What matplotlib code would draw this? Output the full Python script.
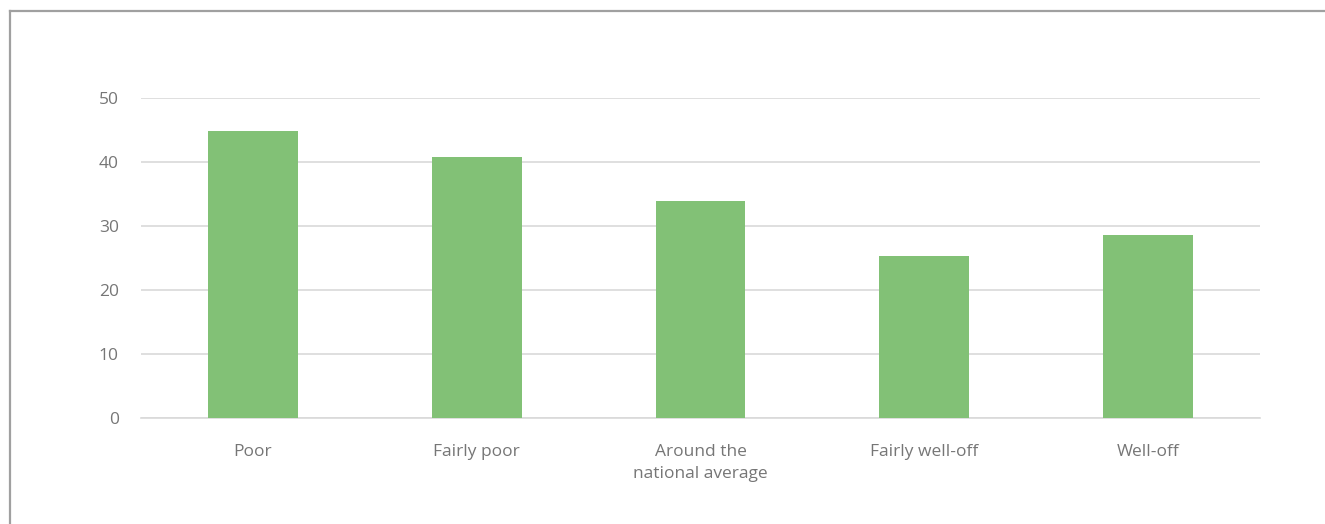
import matplotlib.pyplot as plt
from matplotlib.lines import Line2D
import numpy as np

categories = ["Poor", "Fairly poor", "Around the\nnational average", "Fairly well-off", "Well-off"]
values = [44.8, 40.8, 33.9, 25.3, 28.6]
yticks = [0, 10, 20, 30, 40, 50]

plt.rcParams['font.family'] = ['Open Sans', 'DejaVu Sans']

W, H = 1325, 524
fig = plt.figure(figsize=(W / 100, H / 100), dpi=100)
ax = fig.add_axes([141 / W, 1 - 418 / H, (1260 - 141) / W, (418 - 98) / H])

x = np.arange(len(categories))
ax.bar(x, values, width=0.402, color="#82c176", zorder=3)

ax.set_xlim(-0.5, len(categories) - 0.5)
ax.set_ylim(0, 50)
ax.set_yticks(yticks)
ax.set_xticks(x)
ax.set_xticklabels(categories, linespacing=1.45)
ax.grid(axis="y", color="#d9d9d9", linewidth=1.2, zorder=0)
for s in ["top", "right", "left"]:
    ax.spines[s].set_visible(False)
ax.spines["bottom"].set_color("#d9d9d9")
ax.spines["bottom"].set_linewidth(1.2)
ax.tick_params(axis="both", length=0, labelsize=12.5, labelcolor="#767676")
ax.tick_params(axis="x", pad=19)
ax.tick_params(axis="y", pad=16)

# outer frame (left and top only)
fig.add_artist(Line2D([10.5 / W, 10.5 / W], [0, 1 - 11 / H], color="#a0a0a0", linewidth=1.6))
fig.add_artist(Line2D([10.5 / W, 1], [1 - 11 / H, 1 - 11 / H], color="#a0a0a0", linewidth=1.6))

fig.savefig("out.png", dpi=100)
